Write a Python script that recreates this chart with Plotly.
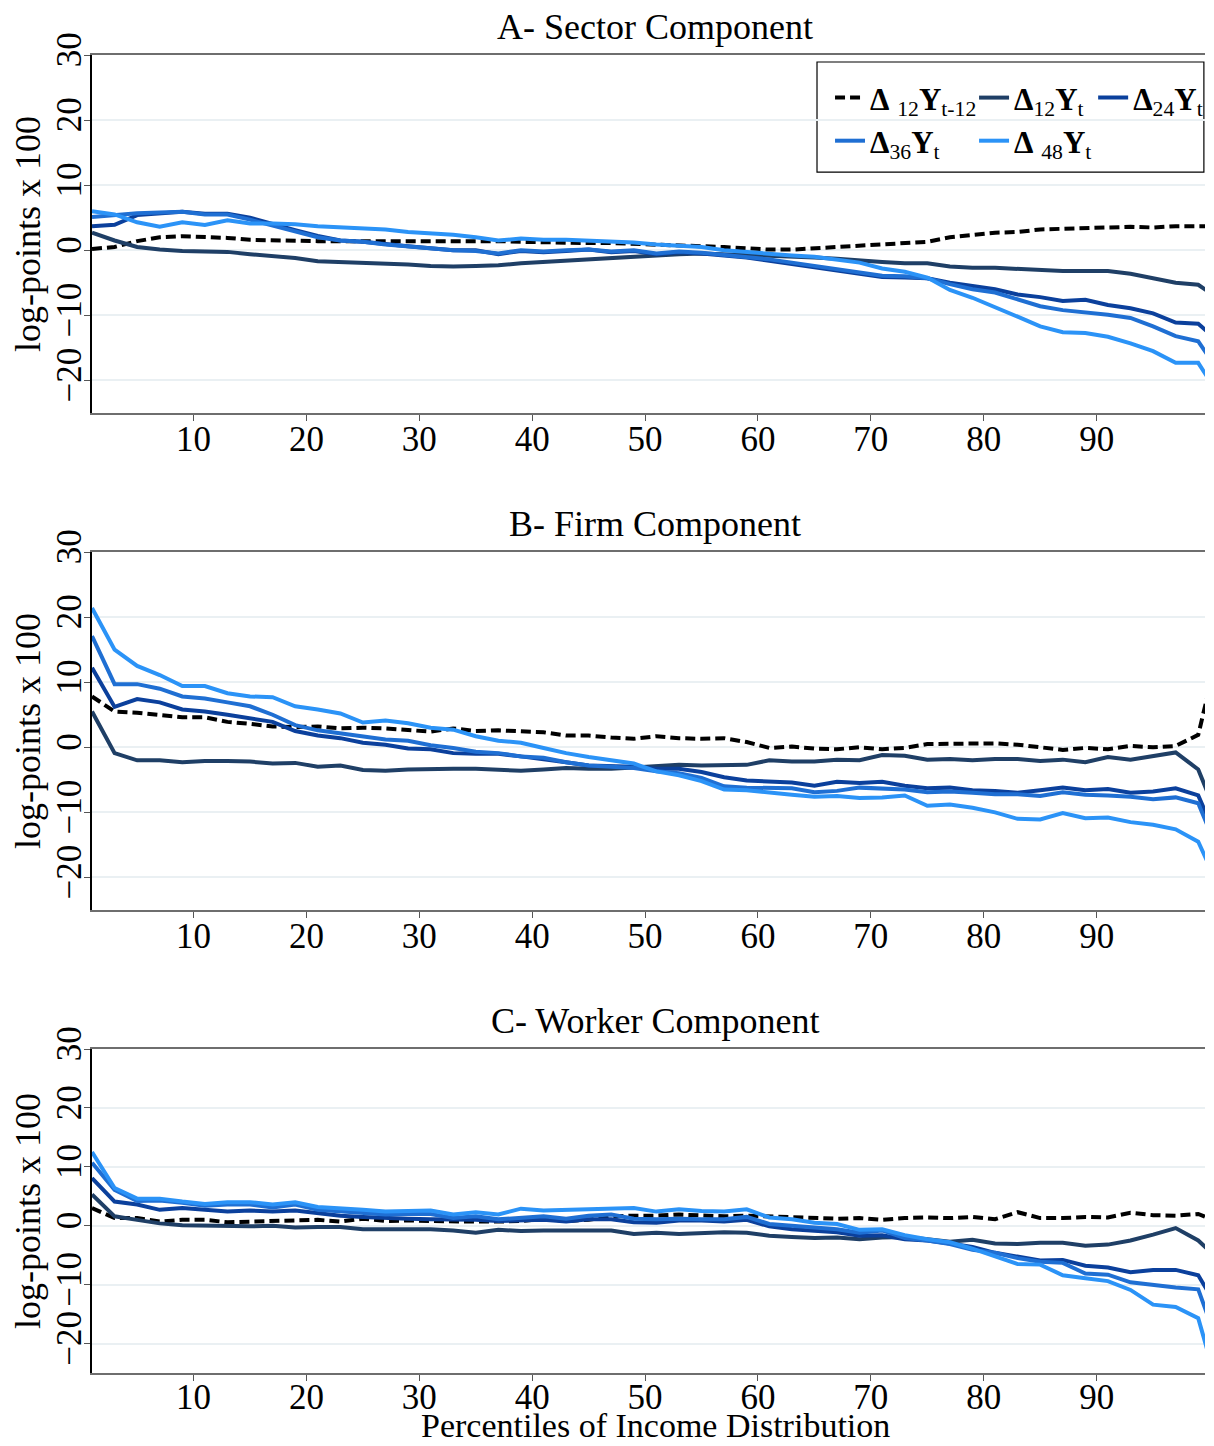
import plotly.graph_objects as go

FONT = "Liberation Serif"

PCTL = [1, 3, 5, 7, 9, 11, 13, 15, 17, 19, 21, 23, 25, 27, 29, 31, 33, 35, 37, 39,
        41, 43, 45, 47, 49, 51, 53, 55, 57, 59, 61, 63, 65, 67, 69, 71, 73, 75, 77, 79,
        81, 83, 85, 87, 89, 91, 93, 95, 97, 99, 100]

SERIES = ["d12_lag", "d12", "d24", "d36", "d48"]
LABELS = {
    "d12_lag": "<b>Δ</b> <sub>12</sub><b>Y</b><sub>t-12</sub>",
    "d12": "<b>Δ</b><sub>12</sub><b>Y</b><sub>t</sub>",
    "d24": "<b>Δ</b><sub>24</sub><b>Y</b><sub>t</sub>",
    "d36": "<b>Δ</b><sub>36</sub><b>Y</b><sub>t</sub>",
    "d48": "<b>Δ</b> <sub>48</sub><b>Y</b><sub>t</sub>",
}
COLORS = {"d12_lag": "#000000", "d12": "#1f3f66", "d24": "#0b409c", "d36": "#1f6fd3", "d48": "#2b93f7"}

# A- Sector component
SECTOR = {
    "d12_lag": [0.2, 0.5, 1.4, 2.0, 2.15, 2.1, 1.9, 1.6, 1.5, 1.4, 1.4, 1.4, 1.4, 1.4, 1.4, 1.5, 1.5, 1.4, 1.4, 1.3,
                1.2, 1.2, 1.1, 1.1, 1.0, 0.9, 0.7, 0.6, 0.5, 0.3, 0.1, 0.1, 0.3, 0.45, 0.7, 0.9, 1.1, 1.3, 2.0, 2.3,
                2.7, 2.8, 3.2, 3.3, 3.4, 3.6, 3.6, 3.5, 3.7, 3.7, 3.7],
    "d12": [2.7, 1.5, 0.5, 0.1, -0.1, -0.2, -0.25, -0.6, -0.9, -1.2, -1.7, -1.8, -1.9, -2.1, -2.2, -2.4, -2.5, -2.4, -2.3, -2.0,
            -1.8, -1.6, -1.4, -1.1, -1.0, -0.8, -0.6, -0.5, -0.6, -0.8, -0.9, -1.0, -1.1, -1.3, -1.6, -1.8, -2.0, -2.0, -2.5, -2.7,
            -2.7, -2.9, -3.1, -3.2, -3.2, -3.2, -3.6, -4.3, -5.0, -5.3, -6.5],
    "d24": [3.7, 3.9, 5.4, 5.6, 5.9, 5.6, 5.6, 5.0, 4.0, 3.1, 2.2, 1.5, 1.3, 0.9, 0.6, 0.3, 0.0, 0.0, -0.6, -0.1,
            -0.3, -0.1, 0.1, -0.3, -0.1, -0.6, -0.3, -0.5, -0.8, -1.1, -1.6, -2.1, -2.6, -3.2, -3.6, -4.1, -4.2, -4.3, -5.0, -5.5,
            -6.0, -6.8, -7.2, -7.8, -7.6, -8.4, -8.9, -9.7, -11.1, -11.3, -12.8],
    "d36": [5.1, 5.4, 5.7, 5.8, 5.9, 5.5, 5.5, 4.7, 3.8, 3.0, 2.0, 1.5, 1.3, 0.9, 0.6, 0.2, 0.0, -0.1, -0.5, 0.0,
            -0.2, 0.0, 0.1, -0.2, 0.0, -0.5, -0.2, -0.4, -0.7, -1.0, -1.4, -1.9, -2.4, -2.9, -3.4, -3.9, -4.0, -4.3, -5.2, -6.0,
            -6.5, -7.6, -8.6, -9.2, -9.5, -9.9, -10.4, -11.7, -13.2, -14.0, -16.5],
    "d48": [6.0, 5.5, 4.3, 3.6, 4.3, 3.9, 4.6, 4.1, 4.1, 4.0, 3.7, 3.5, 3.4, 3.2, 2.8, 2.6, 2.4, 2.0, 1.5, 1.8,
            1.6, 1.6, 1.5, 1.4, 1.2, 0.9, 0.7, 0.5, 0.0, -0.3, -0.6, -0.8, -1.0, -1.5, -1.9, -2.8, -3.3, -4.2, -6.1, -7.3,
            -8.7, -10.2, -11.7, -12.6, -12.7, -13.3, -14.3, -15.5, -17.3, -17.3, -20.0],
}

# B- Firm component
FIRM = {
    "d12_lag": [7.8, 5.5, 5.3, 5.0, 4.6, 4.6, 3.9, 3.6, 3.2, 3.1, 3.2, 2.9, 3.0, 2.9, 2.6, 2.4, 2.9, 2.5, 2.6, 2.4,
                2.3, 1.8, 1.8, 1.5, 1.3, 1.7, 1.4, 1.3, 1.4, 0.8, -0.1, 0.1, -0.2, -0.3, 0.0, -0.3, -0.1, 0.5, 0.5, 0.6,
                0.6, 0.4, 0.0, -0.4, -0.1, -0.3, 0.2, 0.0, 0.2, 1.9, 9.2],
    "d12": [5.5, -0.9, -2.0, -2.0, -2.3, -2.1, -2.1, -2.2, -2.5, -2.4, -3.0, -2.8, -3.5, -3.6, -3.4, -3.3, -3.3, -3.3, -3.4, -3.6,
            -3.4, -3.2, -3.3, -3.3, -3.1, -2.9, -2.7, -2.8, -2.8, -2.7, -2.0, -2.2, -2.2, -1.9, -2.0, -1.2, -1.3, -1.9, -1.8, -2.0,
            -1.8, -1.8, -2.1, -1.9, -2.3, -1.5, -1.9, -1.4, -0.8, -3.4, -7.7],
    "d24": [12.2, 6.2, 7.4, 6.9, 5.8, 5.5, 5.0, 4.4, 3.9, 2.5, 1.8, 1.4, 0.7, 0.4, -0.2, -0.3, -0.9, -1.0, -1.0, -1.4,
            -1.8, -2.3, -2.8, -2.9, -3.0, -3.3, -3.3, -3.8, -4.6, -5.1, -5.2, -5.4, -5.9, -5.3, -5.5, -5.3, -5.9, -6.3, -6.2, -6.6,
            -6.7, -7.0, -6.6, -6.2, -6.6, -6.4, -7.0, -6.8, -6.3, -7.4, -11.4],
    "d36": [17.1, 9.7, 9.7, 9.0, 7.8, 7.5, 6.9, 6.3, 5.0, 3.4, 2.6, 2.1, 1.6, 1.2, 1.0, 0.3, -0.1, -0.7, -0.9, -1.4,
            -1.6, -2.3, -2.8, -3.0, -3.2, -3.7, -4.0, -4.7, -6.0, -6.2, -6.2, -6.3, -6.9, -6.7, -6.2, -6.4, -6.5, -6.9, -6.8, -7.0,
            -7.2, -7.2, -7.5, -6.9, -7.3, -7.4, -7.6, -8.0, -7.7, -8.6, -12.8],
    "d48": [21.4, 15.0, 12.5, 11.1, 9.4, 9.4, 8.3, 7.8, 7.7, 6.3, 5.8, 5.2, 3.8, 4.1, 3.7, 3.0, 2.7, 1.7, 1.0, 0.7,
            -0.1, -0.9, -1.5, -2.0, -2.5, -3.7, -4.3, -5.2, -6.5, -6.6, -7.0, -7.3, -7.6, -7.5, -7.8, -7.7, -7.4, -9.0, -8.8, -9.3,
            -10.0, -11.0, -11.1, -10.1, -10.9, -10.8, -11.5, -11.9, -12.6, -14.5, -18.3],
}

# C- Worker component
WORKER = {
    "d12_lag": [3.0, 1.3, 1.3, 0.7, 1.0, 1.0, 0.6, 0.7, 0.9, 1.0, 1.0, 0.7, 1.2, 0.8, 0.9, 0.8, 0.7, 0.7, 0.7, 0.8,
                1.2, 0.8, 1.0, 1.6, 1.7, 1.7, 1.9, 1.7, 1.6, 1.7, 1.6, 1.5, 1.3, 1.2, 1.3, 1.0, 1.3, 1.4, 1.3, 1.5,
                1.1, 2.3, 1.3, 1.3, 1.5, 1.4, 2.2, 1.8, 1.7, 2.0, 1.2],
    "d12": [5.3, 1.6, 1.0, 0.4, 0.1, 0.0, 0.0, -0.1, 0.0, -0.3, -0.2, -0.2, -0.6, -0.6, -0.5, -0.6, -0.8, -1.2, -0.7, -0.9,
            -0.8, -0.8, -0.7, -0.8, -1.4, -1.2, -1.4, -1.3, -1.1, -1.2, -1.7, -1.9, -2.1, -2.0, -2.3, -2.0, -1.9, -2.3, -2.7, -2.4,
            -3.0, -3.1, -2.9, -2.9, -3.4, -3.2, -2.5, -1.5, -0.4, -2.5, -4.3],
    "d24": [8.1, 4.1, 3.6, 2.7, 3.0, 2.7, 2.4, 2.6, 2.4, 2.6, 2.2, 1.7, 1.5, 1.3, 1.2, 1.1, 1.1, 1.0, 0.8, 0.9,
            1.0, 0.7, 1.1, 1.1, 0.6, 0.5, 0.9, 0.9, 0.7, 1.0, -0.1, -0.6, -0.8, -1.1, -1.7, -1.6, -2.3, -2.5, -3.0, -3.6,
            -4.6, -5.3, -5.9, -5.8, -6.8, -7.1, -7.9, -7.5, -7.5, -8.4, -11.6],
    "d36": [10.7, 6.1, 4.2, 4.3, 3.9, 3.4, 3.6, 3.6, 3.1, 3.6, 2.7, 2.4, 2.1, 1.9, 2.0, 2.0, 1.3, 1.6, 1.1, 1.3,
            1.6, 1.2, 1.7, 1.9, 1.2, 1.1, 1.2, 1.1, 1.1, 1.5, 0.3, 0.0, -0.3, -0.6, -1.2, -0.8, -2.1, -2.5, -3.1, -4.1,
            -4.6, -5.5, -6.1, -6.3, -8.1, -8.3, -9.6, -10.1, -10.5, -10.8, -16.1],
    "d48": [12.5, 6.4, 4.6, 4.6, 4.1, 3.7, 4.0, 4.0, 3.6, 4.0, 3.2, 3.0, 2.7, 2.4, 2.5, 2.6, 1.9, 2.3, 1.9, 2.9,
            2.6, 2.7, 2.7, 2.8, 3.0, 2.4, 2.8, 2.5, 2.4, 2.8, 1.4, 1.1, 0.5, 0.3, -0.7, -0.6, -1.6, -2.3, -2.8, -3.9,
            -5.2, -6.5, -6.6, -8.4, -8.9, -9.4, -10.9, -13.4, -13.8, -15.7, -22.4],
}

PANELS = [
    ("A- Sector Component", SECTOR),
    ("B- Firm Component", FIRM),
    ("C- Worker Component", WORKER),
]

# vertical domains (paper fractions) of the three panels, top to bottom
DOMAINS = [[0.7284, 1.0], [0.3513, 0.6229], [0.0, 0.2458]]

# one legend per entry so the two-row, column-aligned key can be placed like the original
LEGEND_POS = {
    "d12_lag": ("legend", 0.6631, 0.9879),
    "d12": ("legend2", 0.7925, 0.9879),
    "d24": ("legend3", 0.8995, 0.9879),
    "d36": ("legend4", 0.6631, 0.9552),
    "d48": ("legend5", 0.7925, 0.9552),
}

fig = go.Figure()

for i, (title, data) in enumerate(PANELS):
    sfx = "" if i == 0 else str(i + 1)
    for name in SERIES:
        fig.add_trace(
            go.Scatter(
                x=PCTL,
                y=data[name],
                mode="lines",
                name=LABELS[name],
                line={"color": COLORS[name], "width": 4, "dash": "10px,5px" if name == "d12_lag" else "solid"},
                xaxis="x" + sfx,
                yaxis="y" + sfx,
                showlegend=(i == 0),
                legend=LEGEND_POS[name][0],
            )
        )

    axis_x = dict(
        domain=[0, 1],
        anchor="y" + sfx,
        range=[1, 99.6],
        tickvals=[10, 20, 30, 40, 50, 60, 70, 80, 90],
        ticks="outside",
        ticklen=6,
        tickcolor="#555555",
        # bottom panel labels sit a little higher to leave room for the axis title
        ticklabelstandoff=-14 if i == 2 else -12,
        showline=True,
        linecolor="#6e6e6e",
        linewidth=1.5,
        mirror=True,
        showgrid=False,
        zeroline=False,
        automargin=False,
        tickfont={"family": FONT, "size": 35, "color": "#000000"},
    )
    axis_y = dict(
        domain=DOMAINS[i],
        anchor="x" + sfx,
        range=[-25, 30],
        tickvals=[-20, -10, 0, 10, 20, 30],
        ticks="outside",
        ticklen=6,
        tickcolor="#555555",
        tickangle=-90,
        ticklabelstandoff=-11,
        showline=True,
        linecolor="#000000",
        linewidth=1.5,
        showgrid=True,
        gridcolor="#eaf0f3",
        gridwidth=1.5,
        zeroline=False,
        automargin=False,
        tickfont={"family": FONT, "size": 35, "color": "#000000"},
    )
    fig.update_layout({"xaxis" + sfx: axis_x, "yaxis" + sfx: axis_y})

    fig.add_annotation(
        text=title, xref="paper", yref="paper", x=0.506, y=DOMAINS[i][1] + 0.0212,
        xanchor="center", yanchor="middle", showarrow=False,
        font={"family": FONT, "size": 36, "color": "#000000"},
    )
    fig.add_annotation(
        text="log-points x 100", xref="paper", yref="paper", x=-0.0575,
        y=(DOMAINS[i][0] + DOMAINS[i][1]) / 2, xanchor="center", yanchor="middle",
        textangle=-90, showarrow=False,
        font={"family": FONT, "size": 36, "color": "#000000"},
    )

fig.add_annotation(
    text="Percentiles of Income Distribution", xref="paper", yref="paper", x=0.506, y=-0.0395,
    xanchor="center", yanchor="middle", showarrow=False,
    font={"family": FONT, "size": 34, "color": "#000000"},
)

# legend frame
fig.add_shape(
    type="rect", xref="paper", yref="paper", x0=0.6514, x1=0.999, y0=0.9112, y1=0.9947,
    line={"color": "#000000", "width": 1.2}, fillcolor="white", layer="below",
)

legend_layout = {}
for name, (key, lx, ly) in LEGEND_POS.items():
    legend_layout[key] = dict(
        x=lx,
        y=ly,
        xanchor="left",
        yanchor="top",
        orientation="h",
        bgcolor="rgba(0,0,0,0)",
        font={"family": FONT, "size": 31, "color": "#000000"},
        itemwidth=30,
    )

# the page body adds an 8px margin on every side, so the figure is sized to fit inside it
fig.update_layout(
    width=1198,
    height=1430,
    paper_bgcolor="white",
    plot_bgcolor="white",
    margin=dict(l=84, r=1, t=47, b=65, autoexpand=False),
    **legend_layout,
)

fig.write_html("out.html")
